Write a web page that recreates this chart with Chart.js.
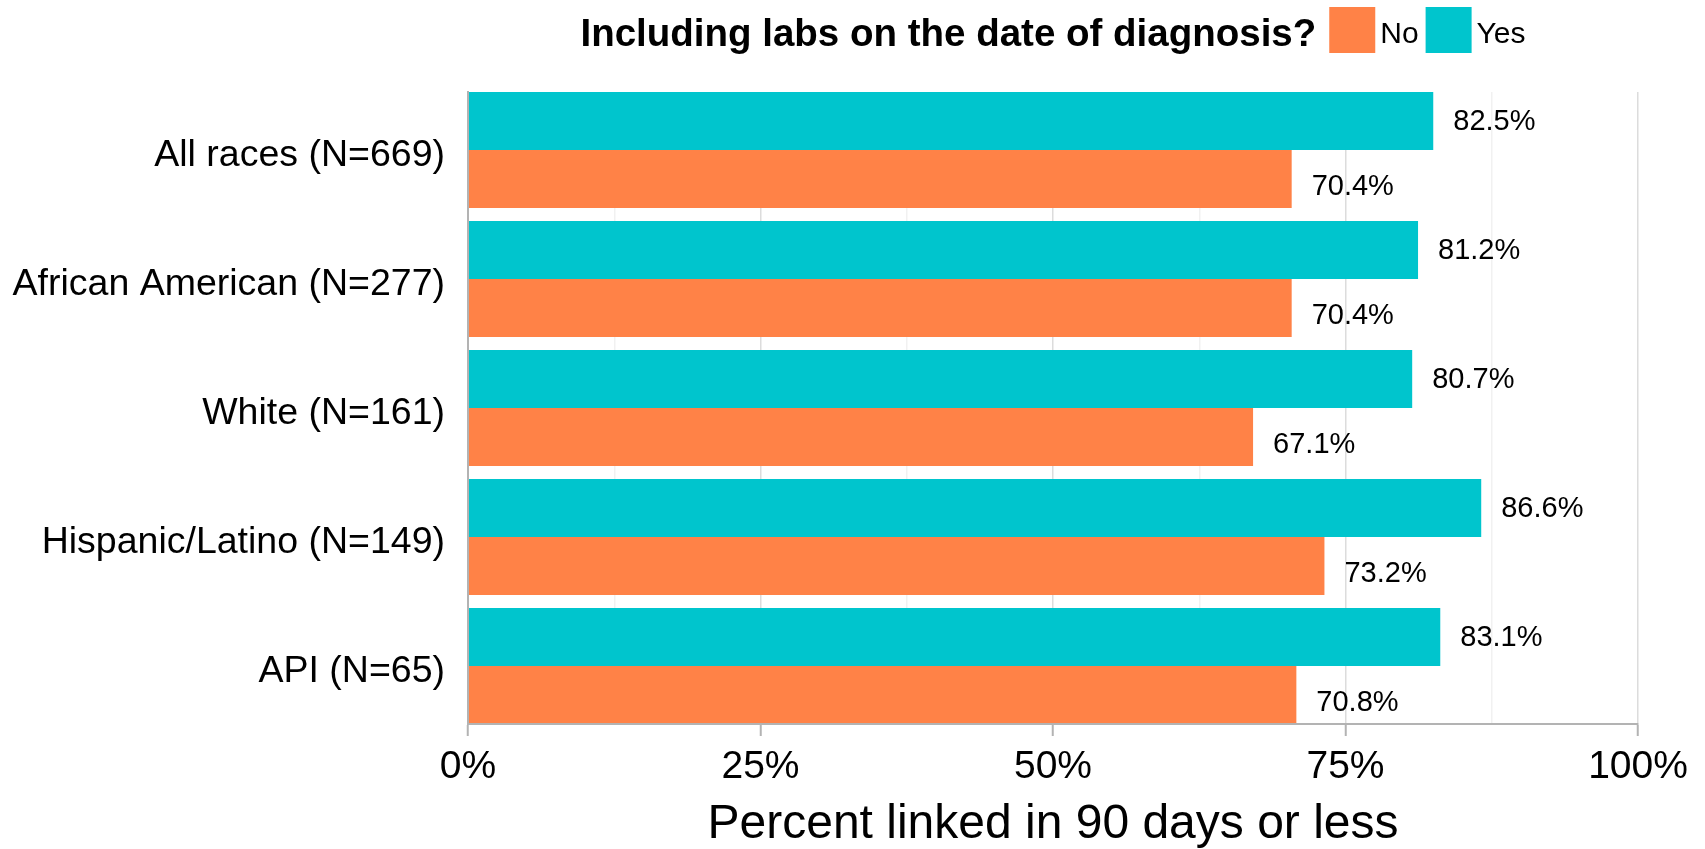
<!DOCTYPE html>
<html><head><meta charset="utf-8">
<script src="https://cdn.jsdelivr.net/npm/chart.js@4.4.1/dist/chart.umd.min.js"></script>
<style>html,body{margin:0;padding:0;background:#fff;} canvas{display:block;}</style>
</head><body>
<canvas id="c" width="1705" height="849"></canvas>
<script>
const categories = ['All races (N=669)', 'African American (N=277)', 'White (N=161)', 'Hispanic/Latino (N=149)', 'API (N=65)'];
const yesValues = [82.5, 81.2, 80.7, 86.6, 83.1];
const noValues = [70.4, 70.4, 67.1, 73.2, 70.8];
const legendOrder = ['No', 'Yes'];
const xTickValues = [0, 25, 50, 75, 100];
const legendTitle = 'Including labs on the date of diagnosis?';
const xTitle = 'Percent linked in 90 days or less';

const FONT = "'Liberation Sans', Arial, Helvetica, sans-serif";
const ORANGE = '#FF8247';
const CYAN = '#00C5CD';
const AXIS = '#b3b3b3';

const toPoints = (vals) => vals.map((v, i) => ({x: v, y: i}));

const dataLabels = {
  id: 'dataLabels',
  afterDatasetsDraw(chart) {
    const ctx = chart.ctx;
    ctx.save();
    ctx.font = '29px ' + FONT;
    ctx.fillStyle = '#000';
    ctx.textAlign = 'left';
    ctx.textBaseline = 'middle';
    chart.data.datasets.forEach((ds, di) => {
      const meta = chart.getDatasetMeta(di);
      meta.data.forEach((bar, i) => {
        ctx.fillText(ds.data[i].x.toFixed(1) + '%', bar.x + 20, bar.y + ds.labelShift);
      });
    });
    ctx.restore();
  }
};

const customLegend = {
  id: 'customLegend',
  afterDraw(chart) {
    const ctx = chart.ctx, ca = chart.chartArea;
    const titleFont = 'bold 38.5px ' + FONT, itemFont = '30px ' + FONT;
    ctx.save();
    ctx.font = titleFont;
    const tw = ctx.measureText(legendTitle).width;
    ctx.font = itemFont;
    const items = legendOrder.map(label => {
      const ds = chart.data.datasets.find(d => d.label === label);
      return {label, color: ds.backgroundColor, w: ctx.measureText(label).width};
    });
    const box = 46, gapTitle = 13, gapText = 5, gapItem = 7;
    let total = tw + gapTitle;
    items.forEach((it, k) => { total += box + gapText + it.w + (k < items.length - 1 ? gapItem : 0); });
    let x = (ca.left + ca.right) / 2 - total / 2;
    const cy = 35;
    ctx.textBaseline = 'middle';
    ctx.textAlign = 'left';
    ctx.fillStyle = '#000';
    ctx.font = titleFont;
    ctx.fillText(legendTitle, x, cy);
    x += tw + gapTitle;
    ctx.font = itemFont;
    items.forEach(it => {
      ctx.fillStyle = it.color;
      ctx.fillRect(x, 7, box, box);
      x += box + gapText;
      ctx.fillStyle = '#000';
      ctx.fillText(it.label, x, cy);
      x += it.w + gapItem;
    });
    ctx.restore();
  }
};

new Chart(document.getElementById('c'), {
  type: 'bar',
  data: {
    datasets: [
      {label: 'Yes', data: toPoints(yesValues), backgroundColor: CYAN, labelShift: 1},
      {label: 'No', data: toPoints(noValues), backgroundColor: ORANGE, labelShift: 8}
    ]
  },
  options: {
    indexAxis: 'y',
    responsive: false,
    devicePixelRatio: 1,
    animation: false,
    layout: {padding: {top: 92, right: 67, bottom: 0, left: 0}},
    datasets: {bar: {categoryPercentage: 0.9, barPercentage: 1.0, borderWidth: 0}},
    plugins: {legend: {display: false}, tooltip: {enabled: false}},
    scales: {
      x: {
        type: 'linear',
        min: 0, max: 100,
        afterBuildTicks(scale) {
          const t = [];
          for (let i = 0; i < xTickValues.length; i++) {
            t.push({value: xTickValues[i]});
            if (i < xTickValues.length - 1) t.push({value: (xTickValues[i] + xTickValues[i + 1]) / 2});
          }
          scale.ticks = t;
        },
        afterFit(scale) { scale.height = 125; },
        ticks: {
          autoSkip: false, maxRotation: 0, padding: 8, color: '#000',
          font: {family: FONT, size: 39},
          callback: (v) => xTickValues.includes(v) ? v + '%' : ''
        },
        grid: {
          color: (c) => (c.tick && xTickValues.includes(c.tick.value)) ? '#dcdcdc' : '#f1f1f1',
          lineWidth: 1.5,
          tickLength: 12,
          tickWidth: 2,
          tickColor: (c) => (c.tick && xTickValues.includes(c.tick.value)) ? AXIS : 'rgba(0,0,0,0)'
        },
        border: {display: true, color: AXIS, width: 2, z: 1},
        title: {display: true, text: xTitle, color: '#000', padding: 0, font: {family: FONT, size: 48, lineHeight: 1.0}}
      },
      y: {
        type: 'linear',
        bounds: 'data',
        offset: false,
        reverse: true,
        min: -0.45, max: 4.45,
        afterBuildTicks(scale) {
          scale.ticks = categories.map((c, i) => ({value: i}));
        },
        afterFit(scale) { scale.width = 468; },
        ticks: {
          autoSkip: false, padding: 23, labelOffset: 6, color: '#000',
          font: {family: FONT, size: 37.5},
          callback: (v) => categories[v] !== undefined ? categories[v] : ''
        },
        grid: {display: false, drawTicks: false, offset: false},
        border: {display: true, color: AXIS, width: 2, z: 1}
      }
    }
  },
  plugins: [dataLabels, customLegend]
});
</script>
</body></html>
